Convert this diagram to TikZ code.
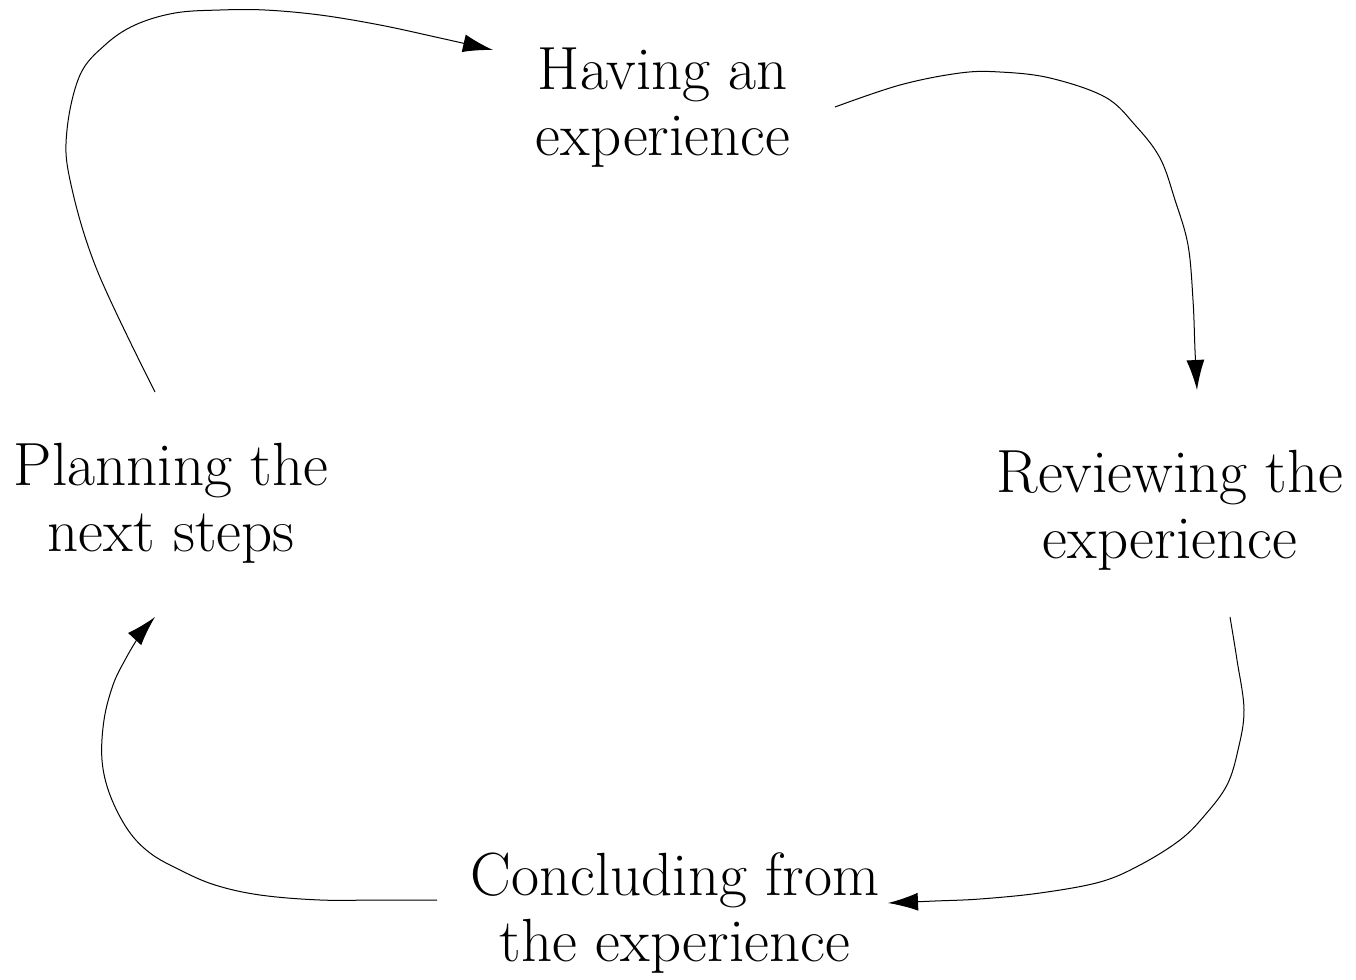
\documentclass[tikz,border=0pt]{standalone}
\usetikzlibrary{arrows.meta}
\begin{document}
\begin{tikzpicture}[x=0.5pt,y=-0.5pt,
  lbl/.style={align=center,font=\fontsize{30.5}{33}\selectfont,inner sep=0pt},
  cyc/.style={line width=0.5pt,-{Latex[length=15pt,width=9pt]}}]
\useasboundingbox (0,0) rectangle (1356,980);
\node[lbl] (have) at (663,108) {Having an\\experience};
\node[lbl] (rev) at (1170,510) {Reviewing the\\experience};
\node[lbl] (conc) at (675,913) {Concluding from\\the experience};
\node[lbl] (plan) at (171,503) {Planning the\\next steps};
\coordinate (a1) at (155,392);
\coordinate (a2) at (493,50);
\coordinate (b1) at (835,107);
\coordinate (b2) at (1197,390);
\coordinate (c1) at (1230,617);
\coordinate (c2) at (888,903);
\coordinate (d1) at (437,900);
\coordinate (d2) at (155,617);
\draw[cyc] plot[smooth,tension=0.6] coordinates {(a1) (97,270) (70,180) (67,130) (80,75) (105,45) (135,25) (175,13) (220,10) (265,10) (320,15) (380,25) (440,38) (a2)};
\draw[cyc] plot[smooth,tension=0.6] coordinates {(b1) (900,85) (960,73) (1000,72) (1050,78) (1105,97) (1135,125) (1160,158) (1175,200) (1188,245) (1193,300) (1195,350) (b2)};
\draw[cyc] plot[smooth,tension=0.6] coordinates {(c1) (1237,660) (1244,710) (1238,750) (1227,785) (1205,815) (1180,840) (1140,865) (1100,882) (1040,893) (980,899) (935,901) (c2)};
\draw[cyc] plot[smooth,tension=0.6] coordinates {(d1) (380,900) (320,900) (260,895) (215,885) (180,870) (150,853) (128,830) (110,795) (102,760) (104,720) (113,685) (125,660) (140,635) (d2)};
\end{tikzpicture}
\end{document}
